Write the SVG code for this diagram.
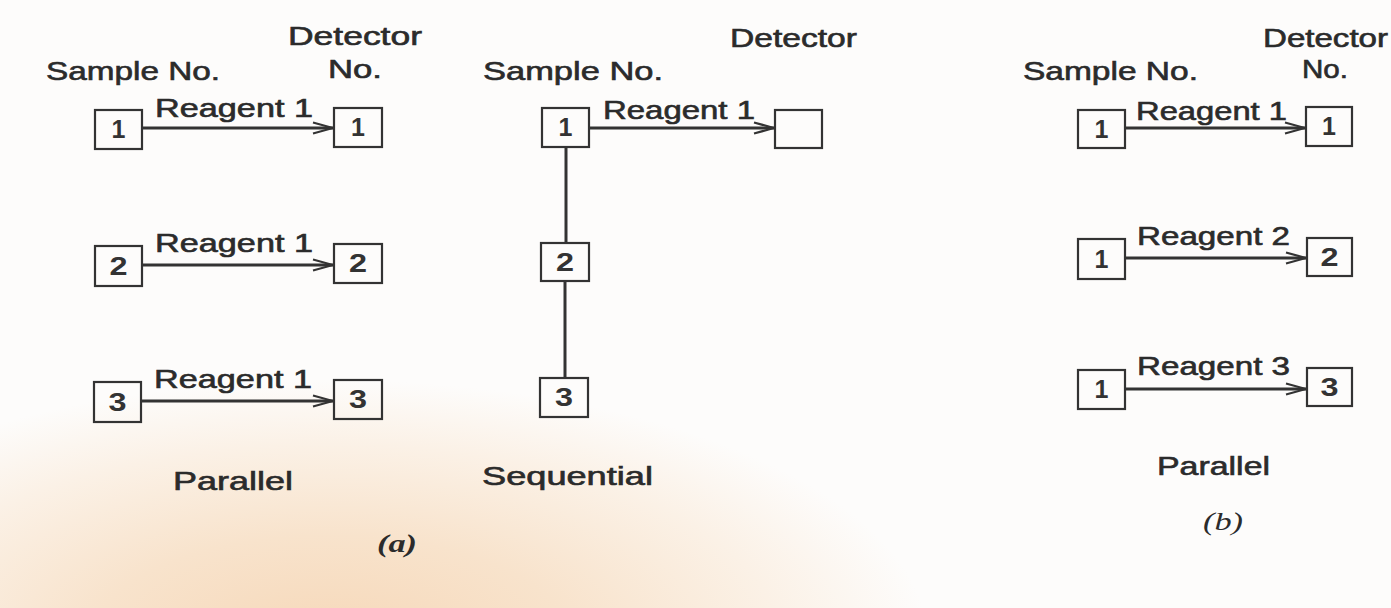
<svg xmlns="http://www.w3.org/2000/svg" width="1391" height="608" viewBox="0 0 1391 608">
<defs>
<radialGradient id="bg" gradientUnits="userSpaceOnUse" cx="330" cy="640" r="520" gradientTransform="translate(330,640) scale(1.15,0.5) translate(-330,-640)">
<stop offset="0" stop-color="#f6d8b9"/>
<stop offset="0.4" stop-color="#f8e3cc"/>
<stop offset="0.75" stop-color="#fbf1e6"/>
<stop offset="1" stop-color="#fdfcfb"/>
</radialGradient>
<marker id="arr" markerWidth="22" markerHeight="14" refX="21" refY="7" orient="auto" markerUnits="userSpaceOnUse">
<path d="M1,1.5 L21,7 L1,12.5" fill="none" stroke="#333" stroke-width="2.2"/>
</marker>
<style>
.lbl{font-family:"Liberation Sans",Arial,sans-serif;font-size:25px;fill:#2b2b2b;stroke:#2b2b2b;stroke-width:0.6;}
.num{font-family:"Liberation Sans",Arial,sans-serif;font-size:25px;font-weight:bold;fill:#333;text-anchor:middle;}
.box{fill:none;stroke:#333;stroke-width:2.2;}
.con{stroke:#333;stroke-width:3;fill:none;}
.cap{font-family:"Liberation Serif","Times New Roman",serif;font-size:26px;font-style:italic;fill:#2b2b2b;}
</style>
</defs>
<rect width="1391" height="608" fill="#fdfcfb"/>
<rect width="1391" height="608" fill="url(#bg)"/>

<g id="headers">
<text class="lbl" x="46" y="80" textLength="174" lengthAdjust="spacingAndGlyphs">Sample No.</text>
<text class="lbl" x="288" y="45" textLength="134" lengthAdjust="spacingAndGlyphs">Detector</text>
<text class="lbl" x="328" y="78" textLength="54" lengthAdjust="spacingAndGlyphs">No.</text>
<text class="lbl" x="483" y="80" textLength="180" lengthAdjust="spacingAndGlyphs">Sample No.</text>
<text class="lbl" x="730" y="47" textLength="127" lengthAdjust="spacingAndGlyphs">Detector</text>
<text class="lbl" x="1023" y="80" textLength="175" lengthAdjust="spacingAndGlyphs">Sample No.</text>
<text class="lbl" x="1263" y="47" textLength="125" lengthAdjust="spacingAndGlyphs">Detector</text>
<text class="lbl" x="1302" y="78" textLength="46" lengthAdjust="spacingAndGlyphs">No.</text>
</g>

<g id="connectors">
<line class="con" x1="142" y1="128" x2="333" y2="128" marker-end="url(#arr)"/>
<line class="con" x1="142" y1="265" x2="333" y2="265" marker-end="url(#arr)"/>
<line class="con" x1="141" y1="401" x2="333" y2="401" marker-end="url(#arr)"/>
<line class="con" x1="589" y1="128" x2="774" y2="128" marker-end="url(#arr)"/>
<line class="con" x1="566" y1="147" x2="566" y2="243"/>
<line class="con" x1="565" y1="281" x2="565" y2="378"/>
<line class="con" x1="1125" y1="128" x2="1305" y2="128" marker-end="url(#arr)"/>
<line class="con" x1="1125" y1="258" x2="1306" y2="258" marker-end="url(#arr)"/>
<line class="con" x1="1125" y1="389" x2="1306" y2="389" marker-end="url(#arr)"/>
<text class="lbl" x="155" y="117" textLength="158" lengthAdjust="spacingAndGlyphs">Reagent 1</text>
<text class="lbl" x="155" y="252" textLength="158" lengthAdjust="spacingAndGlyphs">Reagent 1</text>
<text class="lbl" x="154" y="388" textLength="158" lengthAdjust="spacingAndGlyphs">Reagent 1</text>
<text class="lbl" x="603" y="119" textLength="152" lengthAdjust="spacingAndGlyphs">Reagent 1</text>
<text class="lbl" x="1136" y="120" textLength="151" lengthAdjust="spacingAndGlyphs">Reagent 1</text>
<text class="lbl" x="1137" y="245" textLength="153" lengthAdjust="spacingAndGlyphs">Reagent 2</text>
<text class="lbl" x="1137" y="375" textLength="153" lengthAdjust="spacingAndGlyphs">Reagent 3</text>
</g>

<g id="a-s1"><rect class="box" x="95" y="110" width="47" height="39"/><text class="num" x="118.5" y="138">1</text></g>
<g id="a-s2"><rect class="box" x="95" y="246" width="47" height="40"/><text class="num" x="118.5" y="275" textLength="18" lengthAdjust="spacingAndGlyphs">2</text></g>
<g id="a-s3"><rect class="box" x="94" y="382" width="47" height="40"/><text class="num" x="117.5" y="411" textLength="18" lengthAdjust="spacingAndGlyphs">3</text></g>
<g id="a-d1"><rect class="box" x="334" y="108" width="48" height="39"/><text class="num" x="358" y="136">1</text></g>
<g id="a-d2"><rect class="box" x="334" y="244" width="48" height="39"/><text class="num" x="358" y="272" textLength="18" lengthAdjust="spacingAndGlyphs">2</text></g>
<g id="a-d3"><rect class="box" x="334" y="380" width="48" height="39"/><text class="num" x="358" y="408" textLength="18" lengthAdjust="spacingAndGlyphs">3</text></g>

<g id="s-s1"><rect class="box" x="542" y="108" width="47" height="39"/><text class="num" x="565.5" y="136">1</text></g>
<g id="s-s2"><rect class="box" x="541" y="243" width="48" height="38"/><text class="num" x="565" y="271" textLength="18" lengthAdjust="spacingAndGlyphs">2</text></g>
<g id="s-s3"><rect class="box" x="540" y="378" width="48" height="39"/><text class="num" x="564" y="406" textLength="18" lengthAdjust="spacingAndGlyphs">3</text></g>
<g id="s-d"><rect class="box" x="775" y="110" width="47" height="38"/></g>

<g id="b-s1"><rect class="box" x="1078" y="110" width="47" height="38"/><text class="num" x="1101.5" y="138">1</text></g>
<g id="b-s2"><rect class="box" x="1078" y="239" width="47" height="40"/><text class="num" x="1101.5" y="268">1</text></g>
<g id="b-s3"><rect class="box" x="1078" y="370" width="47" height="39"/><text class="num" x="1101.5" y="398">1</text></g>
<g id="b-d1"><rect class="box" x="1306" y="107" width="46" height="39"/><text class="num" x="1329" y="135">1</text></g>
<g id="b-d2"><rect class="box" x="1307" y="238" width="45" height="38"/><text class="num" x="1329.5" y="266" textLength="18" lengthAdjust="spacingAndGlyphs">2</text></g>
<g id="b-d3"><rect class="box" x="1307" y="368" width="45" height="38"/><text class="num" x="1329.5" y="396" textLength="18" lengthAdjust="spacingAndGlyphs">3</text></g>

<g id="captions">
<text class="lbl" x="173" y="490" textLength="120" lengthAdjust="spacingAndGlyphs">Parallel</text>
<text class="lbl" x="482" y="485" textLength="171" lengthAdjust="spacingAndGlyphs">Sequential</text>
<text class="lbl" x="1157" y="475" textLength="113" lengthAdjust="spacingAndGlyphs">Parallel</text>
<text class="cap" x="377" y="552" font-weight="bold" textLength="40" lengthAdjust="spacingAndGlyphs">(a)</text>
<text class="cap" x="1203" y="530" textLength="40" lengthAdjust="spacingAndGlyphs">(b)</text>
</g>
</svg>
